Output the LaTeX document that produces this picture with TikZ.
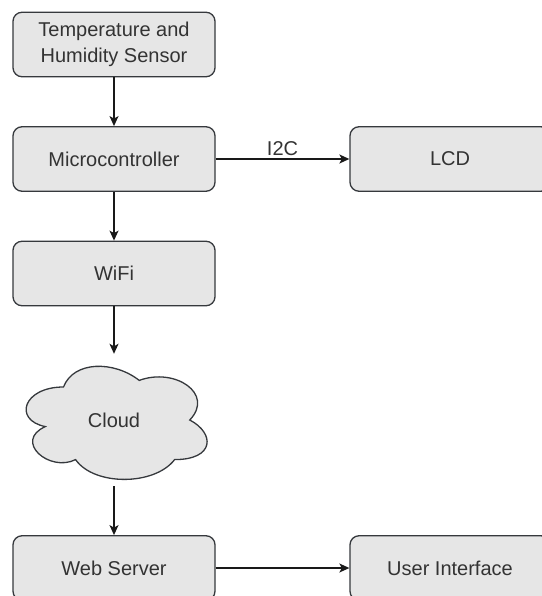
\documentclass[tikz,border=0pt]{standalone}
\usepackage{fontspec}
\setmainfont{Liberation Sans}
\usetikzlibrary{arrows.meta}
\definecolor{boxfill}{HTML}{E6E6E6}
\definecolor{boxline}{HTML}{36393D}
\definecolor{labeltext}{HTML}{333333}

\begin{document}
\begin{tikzpicture}[x=1pt,y=-1pt,align=center]
    \tikzstyle{block} = [draw=boxline,fill=boxfill,line width=1.3pt,rounded corners=9pt,minimum width=202pt,minimum height=64.5pt,inner sep=0pt,text=labeltext,font=\fontsize{20}{26}\selectfont]
    \tikzstyle{cloudarea} = [minimum width=202pt,minimum height=132pt,inner sep=0pt,text=labeltext,font=\fontsize{20}{26}\selectfont]
    \tikzstyle{link} = [draw=black!90,line width=1.3pt,-{Stealth[length=10pt,width=9pt,inset=2.5pt]}]
      \useasboundingbox (0,0) rectangle (541,596);
      \node[block] (sensor) at (114,44.5) {Temperature and\\Humidity Sensor};
      \node[block] (mcu) at (114,159) {Microcontroller};
      \node[block,minimum width=200pt] (lcd) at (450,159) {LCD};
      \node[block] (wifi) at (114,273.5) {WiFi};
      % cloud outline, drawn in its own box
      \begin{scope}[shift={(13,354)},x=202pt,y=-132pt]
        \draw[draw=boxline,fill=boxfill,line width=1.3pt] (0.25,0.25)
          .. controls (0.05,0.25) and (0,0.5) .. (0.16,0.55)
          .. controls (0,0.66) and (0.18,0.9) .. (0.31,0.8)
          .. controls (0.4,1) and (0.7,1) .. (0.8,0.8)
          .. controls (1,0.8) and (1,0.6) .. (0.875,0.5)
          .. controls (1,0.3) and (0.8,0.1) .. (0.625,0.2)
          .. controls (0.5,0.05) and (0.3,0.05) .. (0.25,0.25) -- cycle;
      \end{scope}
      \node[cloudarea] (cloud) at (114,420) {Cloud};
      \node[block] (web) at (114,568) {Web Server};
      \node[block,minimum width=200pt] (ui) at (450,568) {User Interface};
      \draw[link] (sensor) -- (mcu);
      \draw[link] (mcu) -- (lcd) node [midway,above=-1pt,text=labeltext,font=\fontsize{20}{24}\selectfont] (busname) {I2C};
      \draw[link] (mcu) -- (wifi);
      \draw[link] (wifi) -- (cloud.north);
      \draw[link] (cloud.south) -- (web);
      \draw[link] (web) -- (ui);
  \end{tikzpicture}
\end{document}
